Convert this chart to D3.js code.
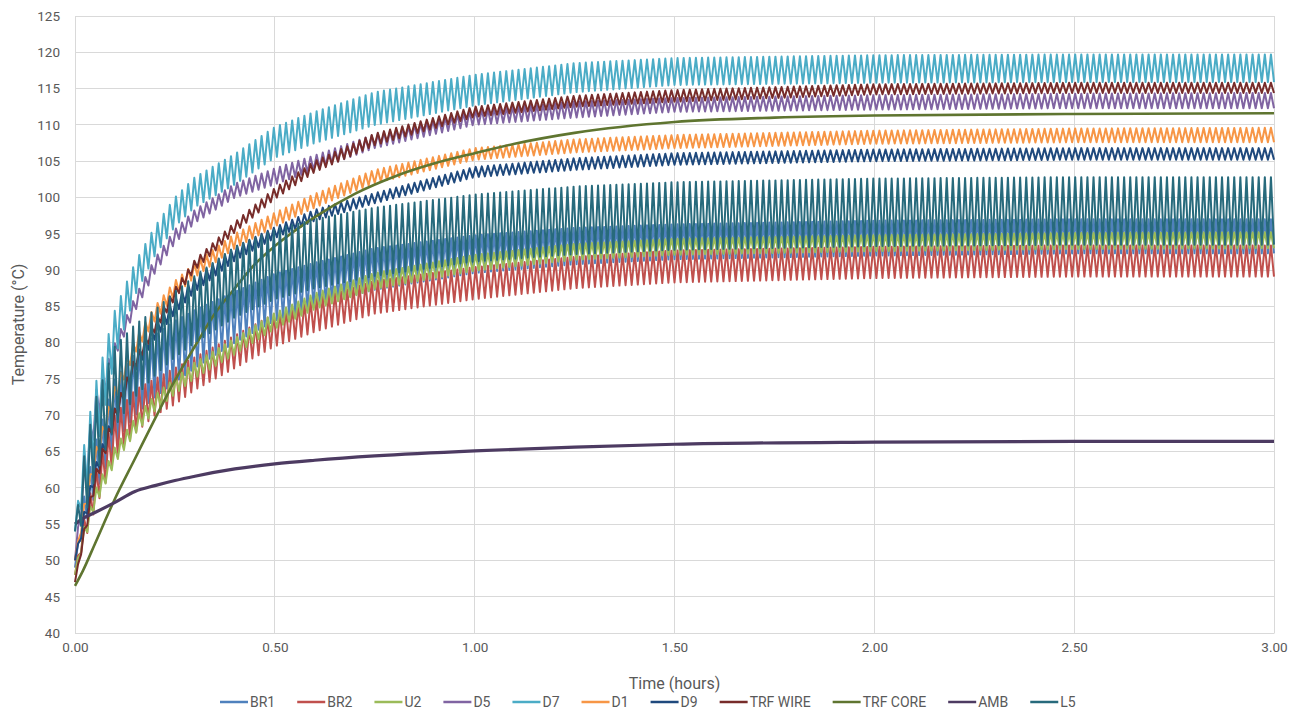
<!DOCTYPE html>
<html><head><meta charset="utf-8">
<script src="https://cdn.jsdelivr.net/npm/d3@7"></script>
<style>
body{margin:0;background:#fff;}
svg{display:block;font-family:Roboto,"Liberation Sans",sans-serif;}
</style></head>
<body><svg id="c" width="1305" height="715"></svg>
<script>
// ---- data (envelopes of oscillating series) ----
const T = [0,0.02,0.05,0.1,0.15,0.2,0.25,0.3,0.4,0.5,0.6,0.75,1.0,1.25,1.5,2.0,2.5,3.0];
const CYCLES = 196; // load cycles counted over 3 h

const BR1_lo = [49,54,59,66,70,72.5,74.5,76.5,80,83,85,87.3,89.6,90.8,91.5,92,92.3,92.3];
const BR1_hi = [49,58,66,75,78.5,81,83,84.5,87,89.5,91,93,94.8,95.8,96.3,96.8,97,97];
const BR2_lo = [48,52,57,64,67.5,70,71.5,73.5,76.5,79.5,81.5,84,86,87.5,88.3,88.9,89.1,89.1];
const BR2_hi = [48,55,62,70,73.5,75,76.5,78,81,84,86,88.5,90.4,91.8,92.7,93.2,93.4,93.4];
const U2_lo  = [48,52,57.4,63.4,67.4,70.6,72.9,75.1,78.4,81.9,84.6,87.4,89.9,91.4,92.1,92.6,92.9,93];
const U2_hi  = [48,54.1,59.6,65.6,69.6,72.8,75.1,77.3,80.6,84.1,86.8,89.6,92.1,93.6,94.3,94.8,95.1,95.2];
const D5_lo  = [50,58,68,78,84.3,89.6,93.7,96.5,100,101.8,103.8,106.8,110,111,111.8,112.1,112.3,112.3];
const D5_hi  = [50,62,73,80,86.3,91.6,95.6,98.3,101.9,104,105.8,108.7,112,113.2,113.7,114.1,114.3,114.4];
const D7_lo  = [54,58,64,78,86.5,92,96,98.7,101.8,105.5,107.5,110,112.7,114.5,115.5,115.8,115.9,115.9];
const D7_hi  = [54,65,74,84.5,91,96,100,102.8,106,109.7,111.8,114.5,116.9,118.5,119.2,119.6,119.7,119.7];
const D1_lo  = [50,55,63,72,78.5,83,86.5,89,93,96,98.6,102,105.2,106.2,106.8,107.4,107.6,107.6];
const D1_hi  = [50,57,65,74,80.5,85,88.5,91,95,97.9,100.5,103.8,106.8,108,108.6,109.2,109.5,109.6];
const D9_lo  = [50,54,61,69,76,80.5,84,87,91.3,94.4,96.8,99.2,102.8,103.8,104.5,105,105.2,105.2];
const D9_hi  = [50,56,63,71,78,82.5,86,89,93.2,95.9,98.3,100.6,104.2,105.4,106.1,106.6,106.8,106.8];
const WIRE_lo= [47,52,60,69,76.5,81.5,86,90,95.2,99.8,103.5,107.2,111.1,112.5,113.2,114.2,114.4,114.4];
const WIRE_hi= [47,53.5,62,71,78,83,87.5,91.4,96.6,101.3,105,108.8,112.5,114,114.8,115.6,115.8,115.8];
const L5_lo  = [54,55,61.5,68.5,72.5,75.5,78,80,83.5,86,87.5,89.2,91.2,92.2,92.8,93.3,93.5,93.5];
const L5_hi  = [54,63.5,72,79.5,82.5,84.5,87,89.2,93.2,95.6,97,98.6,100.4,101.5,102.1,102.6,102.8,102.8];

const CORE_T = [0,0.02,0.05,0.1,0.15,0.2,0.25,0.3,0.35,0.4,0.45,0.5,0.6,0.7,0.8,0.9,1.0,1.1,1.25,1.5,1.75,2.0,2.5,3.0];
const CORE_V = [46.5,48.6,52.3,58.5,64,69.5,74.8,79.5,84,87.5,90.8,93.3,97.3,100.5,102.9,104.7,106.1,107.4,108.9,110.4,111,111.3,111.5,111.6];
const AMB_T = [0,0.02,0.05,0.1,0.15,0.2,0.25,0.3,0.4,0.5,0.6,0.75,1.0,1.25,1.5,2.0,2.5,3.0];
const AMB_V = [55,55.8,56.6,58,59.5,60.3,61,61.6,62.6,63.3,63.8,64.4,65.1,65.6,66,66.3,66.4,66.4];

const names  = ["BR1","BR2","U2","D5","D7","D1","D9","TRF WIRE","TRF CORE","AMB","L5"];
const colors = ["#4F81BD","#C0504D","#9BBB59","#8064A2","#4BACC6","#F79646","#1F497D","#772C2A","#5F7530","#4D3B62","#276A7C"];
const yTicks = d3.range(40,126,5);
const xTicks = [0,0.5,1,1.5,2,2.5,3];

// ---- layout ----
const L=75,R=1274,Tp=16,B=633;
const svg=d3.select("#c");
const x=d3.scaleLinear().domain([0,3]).range([L,R]);
const y=d3.scaleLinear().domain([40,125]).range([B,Tp]);

const grid=svg.append("g");
grid.selectAll("line.h").data(yTicks).join("line")
  .attr("x1",L).attr("x2",R).attr("y1",d=>y(d)).attr("y2",d=>y(d))
  .attr("stroke","#D9D9D9").attr("stroke-width",1).attr("shape-rendering","crispEdges");
grid.selectAll("line.v").data(xTicks).join("line")
  .attr("y1",Tp).attr("y2",B).attr("x1",d=>x(d)).attr("x2",d=>x(d))
  .attr("stroke","#D9D9D9").attr("stroke-width",1).attr("shape-rendering","crispEdges");

const yAxis=svg.append("g").attr("transform",`translate(${L},0)`)
  .call(d3.axisLeft(y).tickValues(yTicks).tickSize(0).tickPadding(15));
const xAxis=svg.append("g").attr("transform",`translate(0,${B})`)
  .call(d3.axisBottom(x).tickValues(xTicks).tickSize(0).tickPadding(9).tickFormat(d3.format(".2f")));
[yAxis,xAxis].forEach(a=>{a.select(".domain").attr("stroke","#D9D9D9");
  a.selectAll("text").attr("fill","#595959").style("font-size","13.5px").style("font-family","Roboto,sans-serif");});

// ---- series ----
function osc(lo,hi){
  const fl=d3.scaleLinear().domain(T).range(lo), fh=d3.scaleLinear().domain(T).range(hi);
  const pts=[]; const n=CYCLES*2;
  for(let k=0;k<=n;k++){const t=3*k/n; pts.push([t,k%2? fh(t):fl(t)]);}
  return pts;
}
const series=[
  osc(BR1_lo,BR1_hi), osc(BR2_lo,BR2_hi), osc(U2_lo,U2_hi), osc(D5_lo,D5_hi),
  osc(D7_lo,D7_hi), osc(D1_lo,D1_hi), osc(D9_lo,D9_hi), osc(WIRE_lo,WIRE_hi),
  CORE_T.map((t,i)=>[t,CORE_V[i]]), AMB_T.map((t,i)=>[t,AMB_V[i]]), osc(L5_lo,L5_hi)
];
const lineLin=d3.line().x(d=>x(d[0])).y(d=>y(d[1]));
const lineSm=d3.line().x(d=>x(d[0])).y(d=>y(d[1])).curve(d3.curveMonotoneX);
const plot=svg.append("g");
series.forEach((s,i)=>{
  const smooth=(i===8||i===9);
  plot.append("path").attr("d",(smooth?lineSm:lineLin)(s)).attr("fill","none")
    .attr("stroke",colors[i]).attr("stroke-width",smooth?(i===9?3.2:2.6):2)
    .attr("stroke-linejoin","round");
});

// ---- titles ----
svg.append("text").attr("x",(L+R)/2).attr("y",689).attr("text-anchor","middle")
  .attr("fill","#595959").style("font-size","16px").text("Time (hours)");
svg.append("text").attr("transform",`translate(24,${(Tp+B)/2}) rotate(-90)`).attr("text-anchor","middle")
  .attr("fill","#595959").style("font-size","16px").text("Temperature (°C)");

// ---- legend ----
const lg=svg.append("g");
let cx=220;
names.forEach((n,i)=>{
  lg.append("line").attr("x1",cx).attr("x2",cx+28).attr("y1",702).attr("y2",702)
    .attr("stroke",colors[i]).attr("stroke-width",2.5);
  const t=lg.append("text").attr("x",cx+30).attr("y",707).attr("fill","#595959")
    .style("font-size","14px").text(n);
  cx+=30+t.node().getComputedTextLength()+22;
});
</script></body></html>
